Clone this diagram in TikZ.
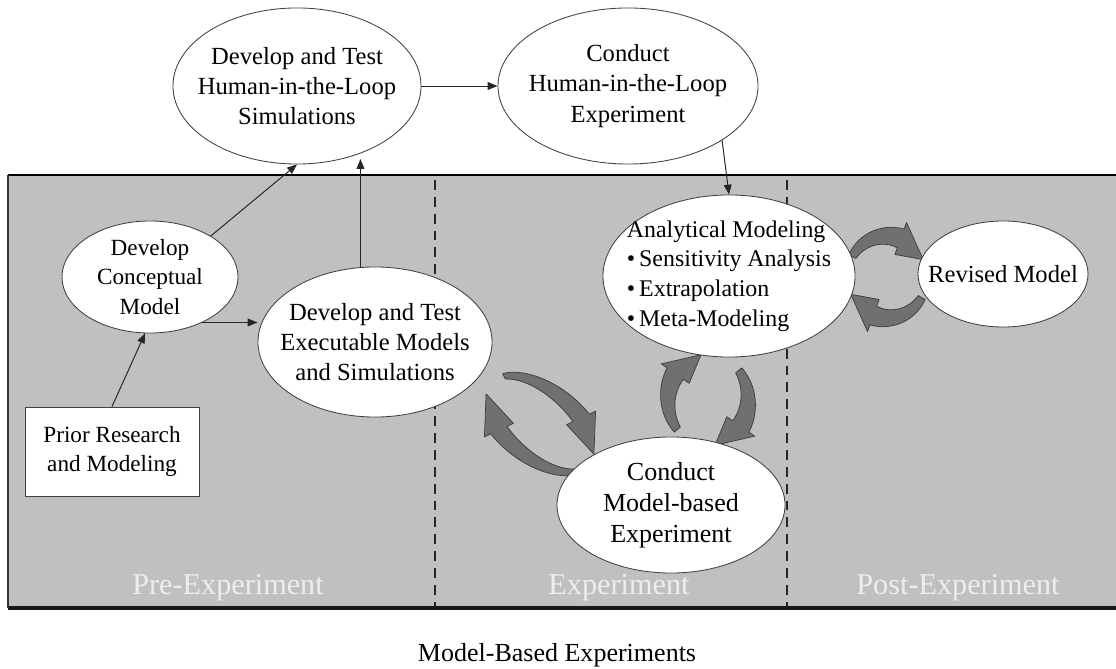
\documentclass[tikz,border=0pt]{standalone}
\usepackage{fontspec}
\setmainfont{Liberation Serif}
\usetikzlibrary{arrows.meta,shapes.geometric,calc}

\definecolor{panelgray}{HTML}{C0C0C0}
\definecolor{cycfill}{HTML}{707070}
\definecolor{cycedge}{HTML}{3A3A3A}
\definecolor{phasetext}{HTML}{EEEEEE}

\tikzset{
  stage/.style={ellipse, draw=black!75, line width=0.6pt, fill=white,
    inner sep=-1.2cm, align=center, font=\fontsize{17.5}{21.5}\selectfont},
  sourcebox/.style={rectangle, draw=black!75, line width=0.6pt, fill=white,
    inner sep=0pt, align=center, font=\fontsize{16.5}{21}\selectfont},
  conn/.style={-{Triangle[length=7pt,width=5.5pt]}, line width=0.7pt, draw=black!85},
  phasediv/.style={line width=1.5pt, draw=black!85, dash pattern=on 7pt off 5pt},
  phaselabel/.style={text=phasetext, font=\fontsize{21.5}{24}\selectfont},
  cycarrow/.style={fill=cycfill, draw=cycedge, line width=0.5pt, line join=round},
}

% Curved arrow along an ellipse (local frame, y pointing up):
% #1 centre, #2 rotation, #3 x radius, #4 y radius,
% #5 tail angle, #6 angle where the head starts, #7 tip angle
\newcommand{\cyclearrow}[7]{%
  \begin{scope}[shift={#1}, y=0.025cm, rotate=#2]
    \filldraw[cycarrow]
      plot[domain=#5:#6, samples=30]
        ({(#3+\cyctail+(\cycbase-\cyctail)*(\x-(#5))/((#6)-(#5)))*cos(\x)},
         {(#4+\cyctail+(\cycbase-\cyctail)*(\x-(#5))/((#6)-(#5)))*sin(\x)})
      -- ({(#3+\cychead)*cos(#6)}, {(#4+\cychead)*sin(#6)})
      -- ({#3*cos(#7)}, {#4*sin(#7)})
      -- ({(#3-\cychead)*cos(#6)}, {(#4-\cychead)*sin(#6)})
      -- plot[domain=#6:#5, samples=30]
        ({(#3-\cyctail-(\cycbase-\cyctail)*(\x-(#5))/((#6)-(#5)))*cos(\x)},
         {(#4-\cyctail-(\cycbase-\cyctail)*(\x-(#5))/((#6)-(#5)))*sin(\x)})
      -- cycle;
  \end{scope}}

\begin{document}
\begin{tikzpicture}[x=0.025cm, y=-0.025cm]
  \useasboundingbox (0,0) rectangle (1116,669);

  % phase panel
  \fill[panelgray] (8,175) rectangle (1116,608);
  \draw[line width=1.6pt, black] (8,175) -- (1116,175);
  \draw[line width=2.2pt, black!90] (8,608) -- (1116,608);
  \draw[line width=1.2pt, black!80] (8,175) -- (8,608);

  % phase dividers
  \draw[phasediv] (435,180) -- (435,606);
  \draw[phasediv] (787,180) -- (787,606);

  % phase names
  \node[phaselabel] (prephase) at (228,588) {Pre-Experiment};
  \node[phaselabel] (midphase) at (619,588) {Experiment};
  \node[phaselabel] (postphase) at (958,588) {Post-Experiment};

  % iteration cycles
  \def\cyctail{3}\def\cycbase{9}\def\cychead{16}
  \cyclearrow{(540,424)}{-39}{64}{34}{155}{64}{18}
  \cyclearrow{(540,424)}{-39}{64}{34}{-25}{-116}{-162}
  \def\cyctail{4}\def\cycbase{10}\def\cychead{17}
  \cyclearrow{(708,400)}{0}{40}{46}{220}{145}{100}
  \cyclearrow{(708,400)}{0}{40}{46}{40}{-35}{-80}
  \cyclearrow{(887,277)}{0}{40}{41}{150}{70}{25}
  \cyclearrow{(887,277)}{0}{40}{41}{-30}{-110}{-155}

  % stages
  \node[stage, minimum width=6.2cm, minimum height=3.9cm] (hsim) at (297,86)
    {Develop and Test\\Human-in-the-Loop\\Simulations};
  \node[stage, minimum width=6.5cm, minimum height=3.9cm] (hexp) at (628,86)
    {Conduct\\Human-in-the-Loop\\Experiment};
  \node[stage, minimum width=4.4cm, minimum height=2.8cm,
        font=\fontsize{16.5}{21}\selectfont] (concept) at (150,277)
    {Develop\\Conceptual\\Model};
  \node[stage, minimum width=5.85cm, minimum height=3.75cm] (exec) at (375,342)
    {Develop and Test\\Executable Models\\and Simulations};
  \node[stage, minimum width=6.3cm, minimum height=4.05cm, align=left,
        font=\fontsize{17}{21}\selectfont] (anal) at (729,276)
    {Analytical Modeling\\\textbullet\,Sensitivity Analysis\\\textbullet\,Extrapolation\\\textbullet\,Meta-Modeling};
  \node[stage, minimum width=4.25cm, minimum height=2.65cm] (revised) at (1003,274)
    {Revised Model};
  \node[stage, minimum width=5.7cm, minimum height=3.4cm,
        font=\fontsize{18.5}{22}\selectfont] (mbexp) at (671,505)
    {Conduct\\Model-based\\Experiment};
  \node[sourcebox, minimum width=4.35cm, minimum height=2.225cm] (prior) at (112,451.5)
    {Prior Research\\and Modeling};

  % flow between stages
  \draw[conn] (hsim) -- (hexp);
  \draw[conn] (hexp.-30) -- (anal.north);
  \draw[conn] (concept.34) -- (hsim.south);
  \draw[conn] (exec.101) -- (exec.101 |- hsim.-58);
  \draw[conn] (concept.-41) -- (concept.-41 -| exec.west);
  \draw[conn] (prior.north) -- (concept.-95);

  % caption
  \node[font=\fontsize{18.5}{22}\selectfont] (caption) at (557,655) {Model-Based Experiments};
\end{tikzpicture}
\end{document}
